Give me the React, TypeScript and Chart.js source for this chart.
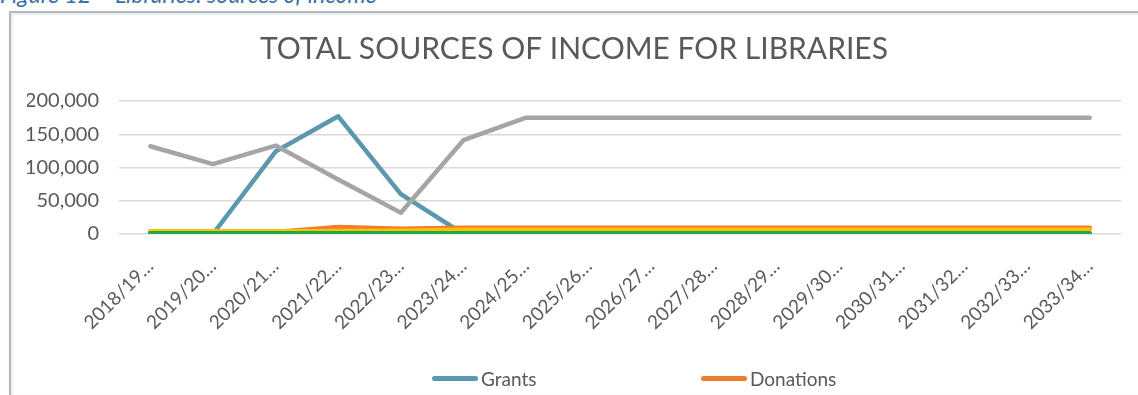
import React, { useEffect, useRef } from "react";
import { Chart, registerables } from "chart.js";

Chart.register(...registerables);

const categories = [
  "2018/19…", "2019/20…", "2020/21…", "2021/22…", "2022/23…", "2023/24…",
  "2024/25…", "2025/26…", "2026/27…", "2027/28…", "2028/29…", "2029/30…",
  "2030/31…", "2031/32…", "2032/33…", "2033/34…",
];

const grants = [0, 0, 124000, 177000, 60000, 0, 0, 0, 0, 0, 0, 0, 0, 0, 0, 0];
const donations = [3500, 3500, 3000, 10500, 8000, 9500, 9500, 9500, 9500, 9500, 9500, 9500, 9500, 9500, 9500, 9500];
const councilFunding = [132000, 105000, 133000, 82000, 32000, 141000, 175000, 175000, 175000, 175000, 175000, 175000, 175000, 175000, 175000, 175000];
const feesCharges = [4000, 4000, 4000, 4500, 5000, 6500, 6500, 6500, 6500, 6500, 6500, 6500, 6500, 6500, 6500, 6500];
const otherIncome = [1000, 1000, 1000, 1000, 1000, 1000, 1000, 1000, 1000, 1000, 1000, 1000, 1000, 1000, 1000, 1000];

const yTicks = [0, 50000, 100000, 150000, 200000];

const FONT = "Lato, 'Open Sans', sans-serif";
const TEXT = "#595959";

const legendItems = [
  { label: "Grants", color: "#5B97AE", left: 432 },
  { label: "Donations", color: "#ED7D31", left: 701 },
];

export default function App() {
  const ref = useRef<HTMLCanvasElement | null>(null);

  useEffect(() => {
    if (!ref.current) return;
    const common = {
      pointRadius: 0,
      borderWidth: 4.5,
      tension: 0,
      fill: false,
      borderCapStyle: "round" as const,
      borderJoinStyle: "round" as const,
    };
    const chart = new Chart(ref.current, {
      type: "line",
      data: {
        labels: categories,
        datasets: [
          { ...common, label: "Grants", data: grants, borderColor: "#5B97AE", backgroundColor: "#5B97AE", order: 5 },
          { ...common, label: "Donations", data: donations, borderColor: "#ED7D31", backgroundColor: "#ED7D31", order: 4 },
          { ...common, label: "Council funding", data: councilFunding, borderColor: "#A5A5A5", backgroundColor: "#A5A5A5", order: 3 },
          { ...common, label: "Fees and charges", data: feesCharges, borderColor: "#FFC000", backgroundColor: "#FFC000", order: 2 },
          { ...common, label: "Other income", data: otherIncome, borderColor: "#1FA84A", backgroundColor: "#1FA84A", order: 1 },
        ],
      },
      options: {
        animation: false,
        responsive: false,
        maintainAspectRatio: false,
        layout: { padding: { left: 15, right: 15, top: 0, bottom: 0 } },
        plugins: {
          legend: { display: false },
          tooltip: { enabled: false },
          title: {
            display: true,
            text: "TOTAL SOURCES OF INCOME FOR LIBRARIES",
            color: TEXT,
            font: { family: FONT, size: 30, weight: "normal" },
            padding: { top: 17, bottom: 34 },
          },
        },
        scales: {
          x: {
            offset: true,
            grid: { display: false },
            border: { display: false },
            ticks: {
              color: TEXT,
              font: { family: FONT, size: 19 },
              maxRotation: 45,
              minRotation: 45,
              autoSkip: false,
              padding: 13,
            },
            afterFit: (scale: any) => {
              scale.height = 161;
            },
          },
          y: {
            min: 0,
            max: 200000,
            afterBuildTicks: (scale: any) => {
              scale.ticks = yTicks.map((v) => ({ value: v }));
            },
            grid: { color: "#D9D9D9", lineWidth: 1.5, drawTicks: false },
            border: { display: false },
            ticks: {
              color: TEXT,
              font: { family: FONT, size: 20 },
              padding: 20,
              callback: (v: any) => Number(v).toLocaleString("en-US"),
            },
            afterFit: (scale: any) => {
              scale.width = 92;
            },
          },
        },
      },
    });
    return () => chart.destroy();
  }, []);

  return (
    <div style={{ position: "absolute", left: 0, top: 0, width: 1138, height: 395, overflow: "hidden", background: "#fff" }}>
      <div
        style={{
          position: "absolute",
          left: 0,
          top: -18,
          fontFamily: FONT,
          fontStyle: "italic",
          fontSize: 23,
          lineHeight: "24px",
          color: "#3A6EA5",
          whiteSpace: "nowrap",
        }}
      >
        Figure 12 – Libraries: sources of income
      </div>
      <div
        style={{
          position: "absolute",
          left: 9,
          top: 11,
          width: 1140,
          height: 382,
          border: "2px solid #AEB9C3",
          boxShadow: "inset 1px 1px 3px rgba(0,0,0,0.12)",
          background: "#fff",
        }}
      />
      <canvas ref={ref} width={1124} height={381} style={{ position: "absolute", left: 12, top: 14, width: 1124, height: 381 }} />
      {legendItems.map((it) => (
        <div key={it.label} style={{ position: "absolute", left: it.left, top: 367, height: 22, display: "flex", alignItems: "center", fontFamily: FONT, fontSize: 19, color: TEXT }}>
          <span style={{ display: "inline-block", width: 46, height: 5, borderRadius: 3, background: it.color, marginRight: 3 }} />
          <span>{it.label}</span>
        </div>
      ))}
    </div>
  );
}
